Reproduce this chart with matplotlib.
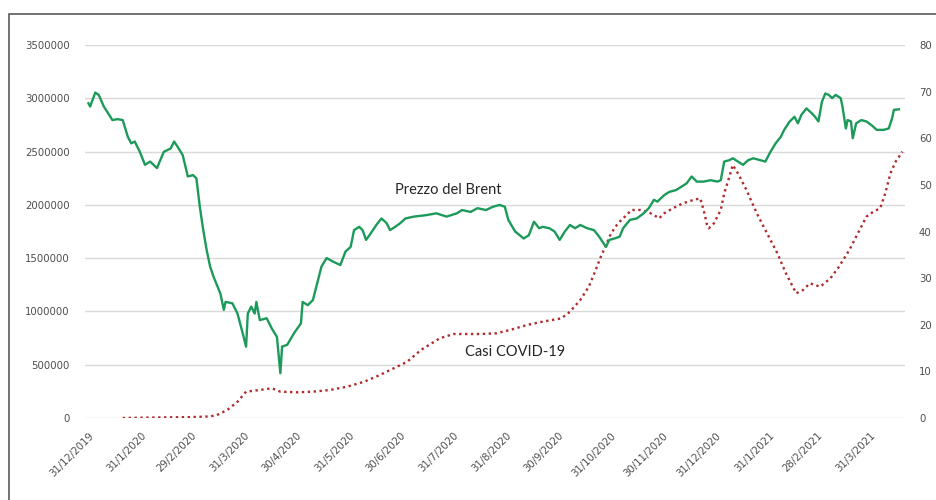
import matplotlib
matplotlib.use("Agg")
import matplotlib.pyplot as plt
import matplotlib.dates as mdates
import pandas as pd
from matplotlib.patches import Rectangle

# Brent crude price (USD/barrel), right axis
brent_dates = [
    "2019-12-31", "2020-01-01", "2020-01-04", "2020-01-06", "2020-01-09", "2020-01-14",
    "2020-01-17", "2020-01-20", "2020-01-23", "2020-01-25", "2020-01-27", "2020-01-30",
    "2020-02-02", "2020-02-05", "2020-02-09", "2020-02-13", "2020-02-17", "2020-02-19",
    "2020-02-21", "2020-02-24", "2020-02-27", "2020-03-01", "2020-03-03", "2020-03-05",
    "2020-03-07", "2020-03-09", "2020-03-11", "2020-03-13", "2020-03-17", "2020-03-19",
    "2020-03-20", "2020-03-24", "2020-03-27", "2020-03-30", "2020-04-01", "2020-04-02",
    "2020-04-04", "2020-04-06", "2020-04-07", "2020-04-09", "2020-04-13", "2020-04-16",
    "2020-04-19", "2020-04-21", "2020-04-22", "2020-04-25", "2020-04-29", "2020-05-03",
    "2020-05-04", "2020-05-07", "2020-05-10", "2020-05-13", "2020-05-15", "2020-05-18",
    "2020-05-22", "2020-05-26", "2020-05-29", "2020-06-01", "2020-06-03", "2020-06-06",
    "2020-06-08", "2020-06-10", "2020-06-12", "2020-06-16", "2020-06-19", "2020-06-22",
    "2020-06-24", "2020-06-27", "2020-06-30", "2020-07-03", "2020-07-08", "2020-07-15",
    "2020-07-21", "2020-07-27", "2020-08-02", "2020-08-05", "2020-08-10", "2020-08-14",
    "2020-08-19", "2020-08-23", "2020-08-27", "2020-08-30", "2020-09-01", "2020-09-05",
    "2020-09-10", "2020-09-13", "2020-09-16", "2020-09-19", "2020-09-21", "2020-09-25",
    "2020-09-28", "2020-10-01", "2020-10-04", "2020-10-07", "2020-10-10", "2020-10-13",
    "2020-10-17", "2020-10-21", "2020-10-24", "2020-10-28", "2020-10-30", "2020-11-02",
    "2020-11-05", "2020-11-07", "2020-11-11", "2020-11-15", "2020-11-19", "2020-11-22",
    "2020-11-25", "2020-11-27", "2020-12-01", "2020-12-04", "2020-12-08", "2020-12-11",
    "2020-12-14", "2020-12-17", "2020-12-20", "2020-12-24", "2020-12-28", "2021-01-01",
    "2021-01-03", "2021-01-05", "2021-01-08", "2021-01-10", "2021-01-13", "2021-01-16",
    "2021-01-19", "2021-01-22", "2021-01-26", "2021-01-29", "2021-02-01", "2021-02-04",
    "2021-02-07", "2021-02-09", "2021-02-12", "2021-02-15", "2021-02-17", "2021-02-19",
    "2021-02-22", "2021-02-25", "2021-02-27", "2021-03-01", "2021-03-03", "2021-03-05",
    "2021-03-07", "2021-03-09", "2021-03-11", "2021-03-14", "2021-03-15", "2021-03-17",
    "2021-03-18", "2021-03-20", "2021-03-21", "2021-03-23", "2021-03-26", "2021-03-29",
    "2021-04-01", "2021-04-04", "2021-04-08", "2021-04-11", "2021-04-13", "2021-04-14",
    "2021-04-17",
]
brent_prices = [
    67.5, 66.8, 69.8, 69.3, 66.8, 63.9,
    64.1, 63.9, 60.3, 58.9, 59.3, 57.1,
    54.3, 55.0, 53.6, 57.1, 57.8, 59.3,
    58.2, 56.4, 51.8, 52.1, 51.4, 45.3,
    40.3, 36.0, 32.5, 30.3, 26.7, 23.2,
    24.9, 24.6, 22.4, 18.2, 15.3, 22.4,
    23.9, 22.4, 24.9, 21.0, 21.4, 19.2,
    17.4, 9.6, 15.3, 15.7, 18.2, 20.3,
    24.9, 24.2, 25.3, 29.6, 32.5, 34.3,
    33.5, 32.8, 35.7, 36.7, 40.3, 41.0,
    40.3, 38.2, 39.2, 41.4, 42.8, 41.8,
    40.3, 41.0, 41.8, 42.8, 43.2, 43.5,
    43.9, 43.2, 43.9, 44.6, 44.2, 45.0,
    44.6, 45.3, 45.7, 45.3, 42.5, 40.0,
    38.5, 39.2, 42.1, 40.7, 41.0, 40.7,
    40.0, 38.2, 40.0, 41.4, 40.7, 41.4,
    40.7, 40.3, 38.9, 36.7, 38.2, 38.5,
    38.9, 40.7, 42.5, 42.8, 43.9, 45.0,
    46.8, 46.4, 47.8, 48.5, 48.9, 49.6,
    50.3, 51.8, 50.7, 50.7, 51.0, 50.7,
    51.0, 55.0, 55.3, 55.7, 55.0, 54.3,
    55.3, 55.7, 55.3, 55.0, 57.1, 58.9,
    60.3, 61.8, 63.5, 64.6, 63.2, 65.0,
    66.4, 65.4, 64.6, 63.6, 67.8, 69.6,
    69.3, 68.6, 69.3, 68.6, 66.8, 62.1,
    63.9, 63.6, 60.0, 63.2, 63.9, 63.6,
    62.8, 61.8, 61.8, 62.1, 64.3, 66.1,
    66.2,
]

# COVID-19 cases, left axis
covid_dates = [
    "2020-01-20", "2020-02-09", "2020-02-29", "2020-03-11", "2020-03-15", "2020-03-21",
    "2020-03-27", "2020-04-01", "2020-04-09", "2020-04-16", "2020-04-21", "2020-05-01",
    "2020-05-10", "2020-05-20", "2020-05-30", "2020-06-09", "2020-06-18", "2020-06-28",
    "2020-07-04", "2020-07-12", "2020-07-23", "2020-07-31", "2020-08-16", "2020-08-25",
    "2020-09-02", "2020-09-12", "2020-09-21", "2020-10-02", "2020-10-07", "2020-10-13",
    "2020-10-18", "2020-10-22", "2020-10-25", "2020-10-28", "2020-10-31", "2020-11-04",
    "2020-11-08", "2020-11-12", "2020-11-17", "2020-11-21", "2020-11-25", "2020-11-28",
    "2020-12-01", "2020-12-06", "2020-12-12", "2020-12-18", "2020-12-22", "2020-12-24",
    "2020-12-26", "2020-12-27", "2020-12-30", "2021-01-03", "2021-01-05", "2021-01-08",
    "2021-01-10", "2021-01-13", "2021-01-18", "2021-01-24", "2021-01-30", "2021-02-05",
    "2021-02-10", "2021-02-16", "2021-02-20", "2021-02-24", "2021-03-02", "2021-03-08",
    "2021-03-13", "2021-03-19", "2021-03-25", "2021-03-29", "2021-04-02", "2021-04-06",
    "2021-04-09", "2021-04-12", "2021-04-15", "2021-04-19",
]
covid_cases = [
    0, 5000, 8000, 15000, 28000, 75000,
    153000, 247000, 263000, 279000, 247000, 241000,
    247000, 263000, 294000, 341000, 403000, 481000,
    528000, 638000, 748000, 788000, 788000, 795000,
    826000, 873000, 904000, 935000, 997000, 1107000,
    1232000, 1389000, 1513000, 1623000, 1733000, 1827000,
    1889000, 1952000, 1952000, 1936000, 1905000, 1873000,
    1921000, 1968000, 2015000, 2046000, 2061000, 1952000,
    1811000, 1780000, 1827000, 1952000, 2108000, 2264000,
    2374000, 2296000, 2139000, 1921000, 1733000, 1546000,
    1358000, 1170000, 1201000, 1264000, 1232000, 1311000,
    1420000, 1576000, 1764000, 1889000, 1936000, 1968000,
    2108000, 2296000, 2405000, 2499000,
]

tick_dates = [
    "2019-12-31", "2020-01-31", "2020-02-29", "2020-03-31", "2020-04-30", "2020-05-31",
    "2020-06-30", "2020-07-31", "2020-08-31", "2020-09-30", "2020-10-31", "2020-11-30",
    "2020-12-31", "2021-01-31", "2021-02-28", "2021-03-31",
]
tick_labels = [
    "31/12/2019", "31/1/2020", "29/2/2020", "31/3/2020", "30/4/2020", "31/5/2020",
    "30/6/2020", "31/7/2020", "31/8/2020", "30/9/2020", "31/10/2020", "30/11/2020",
    "31/12/2020", "31/1/2021", "28/2/2021", "31/3/2021",
]
left_ticks = [0, 500000, 1000000, 1500000, 2000000, 2500000, 3000000, 3500000]
right_ticks = [0, 10, 20, 30, 40, 50, 60, 70, 80]

label_color = "#4d4d4d"
green = "#1c9a5a"
red = "#b02a2a"

fig = plt.figure(figsize=(9.37, 5.0), dpi=100)
fig.patch.set_facecolor("white")

# chart frame
fig.add_artist(Rectangle((9 / 937, -0.05), 1.0, (500 - 14) / 500 + 0.05,
                         transform=fig.transFigure, fill=False,
                         edgecolor="#5a5a5a", linewidth=1.2))

ax = fig.add_axes([85 / 937, (500 - 418) / 500, (905 - 85) / 937, (418 - 45) / 500])
ax2 = ax.twinx()

cd = pd.to_datetime(covid_dates)
bd = pd.to_datetime(brent_dates)

ax.plot(cd, covid_cases, color=red, linewidth=1.7, linestyle=(0, (1, 1.5)))
ax2.plot(bd, brent_prices, color=green, linewidth=1.7, solid_joinstyle="round")

base = pd.Timestamp("2019-12-31")
ax.set_xlim(base - pd.Timedelta(days=2), base + pd.Timedelta(days=476.5))
ax.set_ylim(0, 3500000)
ax2.set_ylim(0, 80)

ax.set_yticks(left_ticks)
ax.set_yticklabels([str(v) for v in left_ticks])
ax2.set_yticks(right_ticks)
ax2.set_yticklabels([str(v) for v in right_ticks])

ax.set_xticks(pd.to_datetime(tick_dates))
ax.set_xticklabels(tick_labels, rotation=45, ha="right", rotation_mode="anchor")

for a in (ax, ax2):
    for s in a.spines.values():
        s.set_visible(False)
    a.tick_params(length=0, labelsize=7.3, labelcolor=label_color)
ax.tick_params(axis="y", pad=11)
ax2.tick_params(axis="y", pad=10)
ax.tick_params(axis="x", pad=9)

ax.grid(axis="y", color="#d9d9d9", linewidth=1.0)
ax.set_axisbelow(True)
ax2.patch.set_visible(False)

ax.text(pd.Timestamp("2020-07-28"), 2140000, "Prezzo del Brent", ha="center", va="center",
        fontsize=10.5, family=["Lato", "DejaVu Sans"], color="#262626")
ax.text(pd.Timestamp("2020-09-05"), 620000, "Casi COVID-19", ha="center", va="center",
        fontsize=10.5, family=["Lato", "DejaVu Sans"], color="#262626")

fig.savefig("out.png", dpi=100)
